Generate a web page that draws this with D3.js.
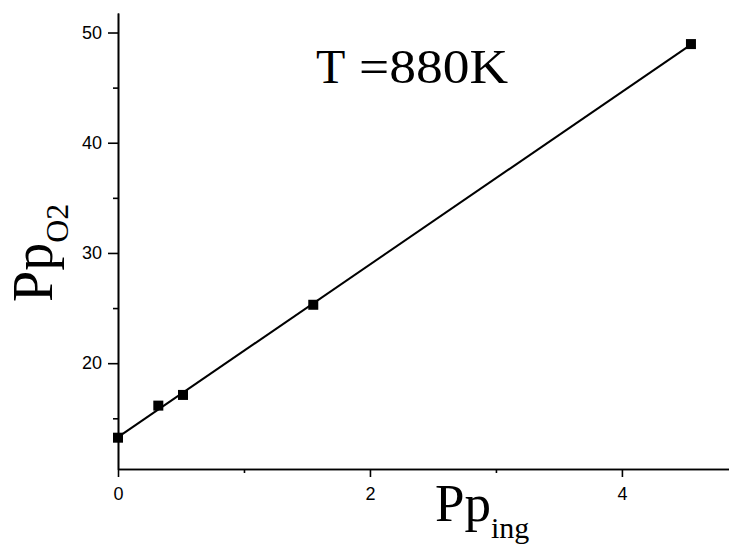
<!DOCTYPE html>
<html>
<head>
<meta charset="utf-8">
<script src="https://cdn.jsdelivr.net/npm/d3@7"></script>
<style>
  html, body { margin: 0; padding: 0; background: #fff; }
  svg { display: block; }
  .tick-label { font-family: "Liberation Sans", Arial, sans-serif; font-size: 18px; }
  .serif-label { font-family: "Liberation Serif", "Times New Roman", Times, serif; }
</style>
</head>
<body>
<div id="chart"></div>
<script>
// Measured partial pressures at T = 880 K
const ppIng = [0, 0.32, 0.516, 1.55, 4.548];
const ppO2  = [13.24, 16.15, 17.12, 25.3, 48.95];

const xMajorTicks = [0, 2, 4];
const xMinorTicks = [1, 3];
const yMajorTicks = [20, 30, 40, 50];
const yMinorTicks = [15, 25, 35, 45];

const titleParts = ["T", "=880K"];

const W = 729, H = 549;
const svg = d3.select("#chart").append("svg")
  .attr("width", W).attr("height", H);

const x = d3.scaleLinear().domain([0, 4.85]).range([118, 729]);
const y = d3.scaleLinear().domain([10.4, 51.77]).range([469, 13]);

// Least-squares line through the points
const mx = d3.mean(ppIng), my = d3.mean(ppO2);
const sxy = d3.sum(ppIng, (v, i) => (v - mx) * (ppO2[i] - my));
const sxx = d3.sum(ppIng, v => (v - mx) * (v - mx));
const slope = sxy / sxx, intercept = my - slope * mx;
const fitX = [d3.min(ppIng), d3.max(ppIng)];

function styleAxis(g) {
  g.attr("font-family", null).attr("font-size", null);
  g.selectAll("path.domain").attr("stroke", "#000").attr("stroke-width", 1.6);
  g.selectAll(".tick line").attr("stroke", "#000").attr("stroke-width", 1.6);
  g.selectAll(".tick text").attr("fill", "#000").attr("class", "tick-label");
}

// X axis
const gx = svg.append("g").attr("transform", `translate(0,${y.range()[0]})`)
  .call(d3.axisBottom(x).tickValues(xMajorTicks).tickSize(8).tickSizeOuter(0)
    .tickPadding(10).tickFormat(d3.format("d")));
styleAxis(gx);
const gxm = svg.append("g").attr("transform", `translate(0,${y.range()[0]})`)
  .call(d3.axisBottom(x).tickValues(xMinorTicks).tickSize(4).tickSizeOuter(0).tickFormat(""));
styleAxis(gxm);

// Y axis
const gy = svg.append("g").attr("transform", `translate(${x.range()[0]},0)`)
  .call(d3.axisLeft(y).tickValues(yMajorTicks).tickSize(10).tickSizeOuter(0)
    .tickPadding(6).tickFormat(d3.format("d")));
styleAxis(gy);
const gym = svg.append("g").attr("transform", `translate(${x.range()[0]},0)`)
  .call(d3.axisLeft(y).tickValues(yMinorTicks).tickSize(5).tickSizeOuter(0).tickFormat(""));
styleAxis(gym);

// Fit line
svg.append("line")
  .attr("x1", x(fitX[0])).attr("y1", y(intercept + slope * fitX[0]))
  .attr("x2", x(fitX[1])).attr("y2", y(intercept + slope * fitX[1]))
  .attr("stroke", "#000").attr("stroke-width", 2);

// Square markers
const m = 10;
svg.append("g").selectAll("rect").data(ppIng.map((v, i) => [v, ppO2[i]]))
  .join("rect")
  .attr("x", d => x(d[0]) - m / 2).attr("y", d => y(d[1]) - m / 2)
  .attr("width", m).attr("height", m).attr("fill", "#000");

// Title
const title = svg.append("text").attr("class", "serif-label")
  .attr("y", 83).attr("font-size", 48);
title.append("tspan").attr("x", 316).text(titleParts[0]);
title.append("tspan").attr("x", 359)
  .attr("textLength", 149).attr("lengthAdjust", "spacingAndGlyphs")
  .text(titleParts[1]);

// X axis label
const xl = svg.append("text").attr("class", "serif-label")
  .attr("x", 435).attr("y", 521).attr("font-size", 53);
xl.append("tspan").text("Pp");
xl.append("tspan").attr("dy", 17).attr("font-size", 30).text("ing");

// Y axis label
const yl = svg.append("text").attr("class", "serif-label")
  .attr("transform", "translate(52,302) rotate(-90)").attr("font-size", 56);
yl.append("tspan").text("Pp");
yl.append("tspan").attr("dy", 16).attr("font-size", 32).text("O2");
</script>
</body>
</html>
